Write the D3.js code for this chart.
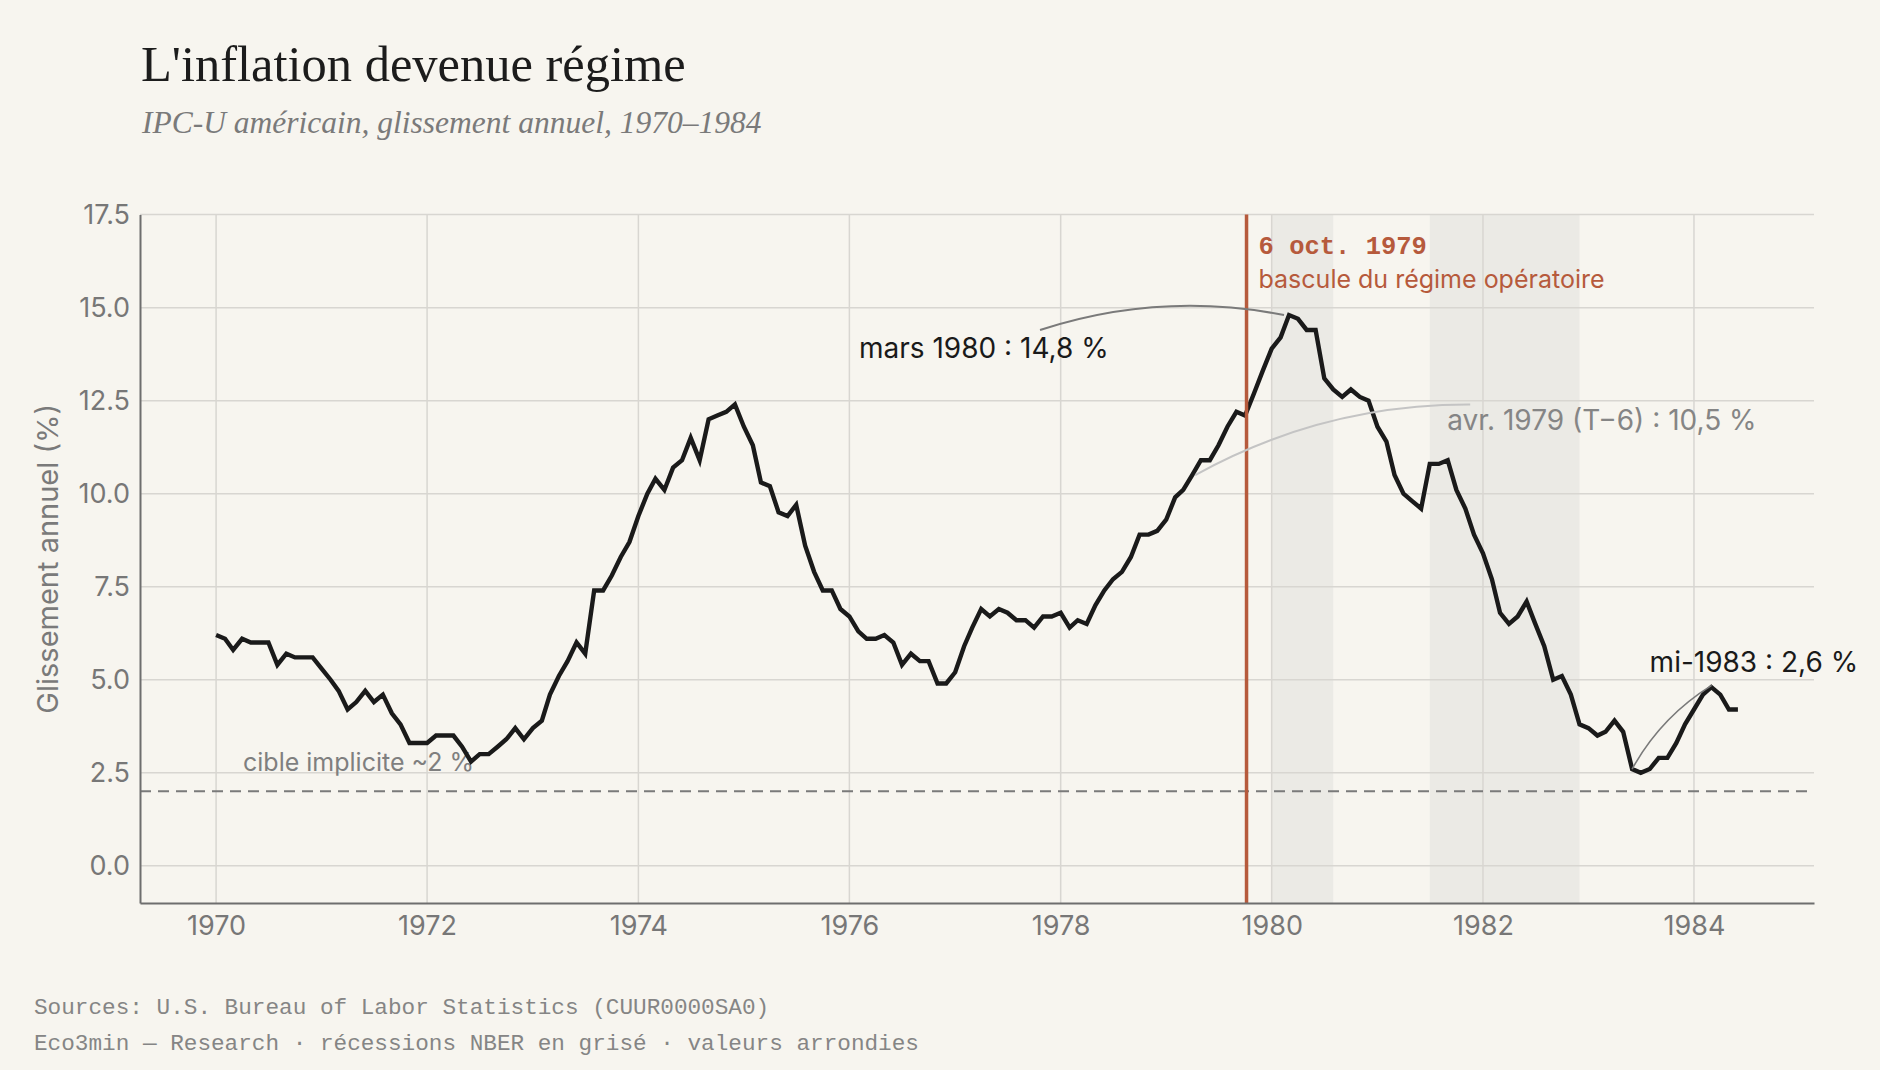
<!DOCTYPE html>
<html lang="fr">
<head>
<meta charset="utf-8">
<script src="https://cdn.jsdelivr.net/npm/d3@7"></script>
<style>
  html, body { margin: 0; padding: 0; background: #f7f5ef; }
  svg { display: block; }
</style>
</head>
<body>
<div class="viz"></div>
<script>
// CPI-U, year-over-year %, monthly from Jan 1970 to Jun 1984
const startMonth = '1970-01'
const yoy = [
  6.2, 6.1, 5.8, 6.1, 6.0, 6.0, 6.0, 5.4, 5.7, 5.6, 5.6, 5.6,          // 1970
  5.3, 5.0, 4.7, 4.2, 4.4, 4.7, 4.4, 4.6, 4.1, 3.8, 3.3, 3.3,          // 1971
  3.3, 3.5, 3.5, 3.5, 3.2, 2.8, 3.0, 3.0, 3.2, 3.4, 3.7, 3.4,          // 1972
  3.7, 3.9, 4.6, 5.1, 5.5, 6.0, 5.7, 7.4, 7.4, 7.8, 8.3, 8.7,          // 1973
  9.4, 10.0, 10.4, 10.1, 10.7, 10.9, 11.5, 10.9, 12.0, 12.1, 12.2, 12.4, // 1974
  11.8, 11.3, 10.3, 10.2, 9.5, 9.4, 9.7, 8.6, 7.9, 7.4, 7.4, 6.9,      // 1975
  6.7, 6.3, 6.1, 6.1, 6.2, 6.0, 5.4, 5.7, 5.5, 5.5, 4.9, 4.9,          // 1976
  5.2, 5.9, 6.4, 6.9, 6.7, 6.9, 6.8, 6.6, 6.6, 6.4, 6.7, 6.7,          // 1977
  6.8, 6.4, 6.6, 6.5, 7.0, 7.4, 7.7, 7.9, 8.3, 8.9, 8.9, 9.0,          // 1978
  9.3, 9.9, 10.1, 10.5, 10.9, 10.9, 11.3, 11.8, 12.2, 12.1, 12.7, 13.3, // 1979
  13.9, 14.2, 14.8, 14.7, 14.4, 14.4, 13.1, 12.8, 12.6, 12.8, 12.6, 12.5, // 1980
  11.8, 11.4, 10.5, 10.0, 9.8, 9.6, 10.8, 10.8, 10.9, 10.1, 9.6, 8.9,  // 1981
  8.4, 7.7, 6.8, 6.5, 6.7, 7.1, 6.5, 5.9, 5.0, 5.1, 4.6, 3.8,          // 1982
  3.7, 3.5, 3.6, 3.9, 3.6, 2.6, 2.5, 2.6, 2.9, 2.9, 3.3, 3.8,          // 1983
  4.2, 4.6, 4.8, 4.6, 4.2, 4.2                                         // 1984
]

// NBER recessions [start, end) by month
const recessions = [['1980-01', '1980-08'], ['1981-07', '1982-12']]
const yTicks = [0, 2.5, 5, 7.5, 10, 12.5, 15, 17.5]
const xTickYears = [1970, 1972, 1974, 1976, 1978, 1980, 1982, 1984]
const targetRate = 2
const regimeDate = '1979-10-06'

const notes = [
  { month: '1980-03', value: 14.8, label: 'mars 1980 : 14,8 %' },
  { month: '1979-04', value: 10.5, label: 'avr. 1979 (T\u22126) : 10,5 %' },
  { month: '1983-06', value: 2.6, label: 'mi-1983 : 2,6 %' }
]

// layout
const W = 1880
const H = 1070
const margin = { top: 214.6, right: 66, bottom: 167, left: 140 }
const sans = 'Inter, "Noto Sans", sans-serif'
const serif = '"Liberation Serif", "DejaVu Serif", serif'
const mono = '"Liberation Mono", "DejaVu Sans Mono", monospace'
const rust = '#b65a3c'

const parseMonth = d3.timeParse('%Y-%m')
const months = d3.timeMonth.range(parseMonth(startMonth), d3.timeMonth.offset(parseMonth(startMonth), yoy.length))
const series = yoy.map((v, i) => ({ date: months[i], value: v }))

const ext = d3.extent(months)
const pad = (ext[1] - ext[0]) * 0.05
const x = d3.scaleTime()
  .domain([new Date(+ext[0] - pad), new Date(+ext[1] + pad)])
  .range([margin.left, W - margin.right])
const y = d3.scaleLinear().domain([-1, 17.5]).range([H - margin.bottom, margin.top])

const svg = d3.select('.viz').append('svg')
  .attr('width', W)
  .attr('height', H)
  .style('background', '#f7f5ef')

// title block
svg.append('text')
  .attr('x', 141).attr('y', 81)
  .attr('font-family', serif).attr('font-size', 50.5)
  .attr('fill', '#1c1c1c')
  .text("L'inflation devenue régime")
svg.append('text')
  .attr('x', 142).attr('y', 133)
  .attr('font-family', serif).attr('font-style', 'italic').attr('font-size', 31.5)
  .attr('fill', '#7a7a7a')
  .text('IPC-U américain, glissement annuel, 1970–1984')

const plot = svg.append('g')

// recession shading
plot.selectAll('rect.rec')
  .data(recessions).enter().append('rect')
  .attr('class', 'rec')
  .attr('x', d => x(parseMonth(d[0])))
  .attr('width', d => x(parseMonth(d[1])) - x(parseMonth(d[0])))
  .attr('y', margin.top)
  .attr('height', y(-1) - margin.top)
  .attr('fill', '#ebeae5')

// grid
plot.selectAll('line.gy')
  .data(yTicks).enter().append('line')
  .attr('x1', margin.left).attr('x2', W - margin.right)
  .attr('y1', d => y(d)).attr('y2', d => y(d))
  .attr('stroke', '#d8d6d1').attr('stroke-width', 1.5)
plot.selectAll('line.gx')
  .data(xTickYears).enter().append('line')
  .attr('x1', d => x(new Date(d, 0, 1))).attr('x2', d => x(new Date(d, 0, 1)))
  .attr('y1', margin.top).attr('y2', y(-1))
  .attr('stroke', '#d8d6d1').attr('stroke-width', 1.5)

// implicit target
plot.append('line')
  .attr('x1', margin.left).attr('x2', W - margin.right)
  .attr('y1', y(targetRate)).attr('y2', y(targetRate))
  .attr('stroke', '#7a7a7a').attr('stroke-width', 2)
  .attr('stroke-dasharray', '11,7')
plot.append('text')
  .attr('x', 243).attr('y', y(targetRate) - 20)
  .attr('font-family', sans).attr('font-size', 25)
  .attr('fill', '#7f7f7f')
  .text('cible implicite ~2 %')

// axes
const yAxis = svg.append('g')
  .attr('transform', `translate(${margin.left},0)`)
  .call(d3.axisLeft(y).tickValues(yTicks).tickFormat(d3.format('.1f')).tickSize(0).tickPadding(10))
const xAxis = svg.append('g')
  .attr('transform', `translate(0,${y(-1)})`)
  .call(d3.axisBottom(x).tickValues(xTickYears.map(d => new Date(d, 0, 1))).tickFormat(d3.timeFormat('%Y')).tickSize(0).tickPadding(13))
;[yAxis, xAxis].forEach(a => {
  a.select('.domain').attr('stroke', '#6e6e6e').attr('stroke-width', 2)
  a.selectAll('text').attr('font-family', sans).attr('font-size', 27).attr('fill', '#777')
})

svg.append('text')
  .attr('transform', `translate(58,${(margin.top + y(-1)) / 2}) rotate(-90)`)
  .attr('text-anchor', 'middle')
  .attr('font-family', sans).attr('font-size', 29)
  .attr('fill', '#7a7a7a')
  .text('Glissement annuel (%)')

// the series
const line = d3.line().x(d => x(d.date)).y(d => y(d.value))
plot.append('path')
  .datum(series)
  .attr('d', line)
  .attr('fill', 'none')
  .attr('stroke', '#1a1a1a')
  .attr('stroke-width', 4.4)

// regime switch marker
const rx = x(d3.timeParse('%Y-%m-%d')(regimeDate))
plot.append('line')
  .attr('x1', rx).attr('x2', rx)
  .attr('y1', margin.top).attr('y2', y(-1))
  .attr('stroke', rust).attr('stroke-width', 3.5)
plot.append('text')
  .attr('x', rx + 12).attr('y', 254)
  .attr('font-family', mono).attr('font-weight', 'bold').attr('font-size', 25.5)
  .attr('fill', rust)
  .text('6 oct. 1979')
plot.append('text')
  .attr('x', rx + 12).attr('y', 288)
  .attr('font-family', sans).attr('font-size', 25)
  .attr('fill', rust)
  .text('bascule du régime opératoire')

// annotations: curved connectors
function arcPath(p1, p2, k = 0.13) {
  const mx = (p1[0] + p2[0]) / 2
  const my = (p1[1] + p2[1]) / 2
  const dx = p2[0] - p1[0]
  const dy = p2[1] - p1[1]
  return `M${p1[0]},${p1[1]}Q${mx + k * dy},${my - k * dx} ${p2[0]},${p2[1]}`
}

const noteStyle = [
  { dx: -430, dy: 43, color: '#1a1a1a', stroke: '#7a7a7a', sw: 2,
    ends: (pt, lb) => [[lb[0] + 181, lb[1] - 28], [pt[0] - 5, pt[1]]] },
  { dx: 255, dy: -45, color: '#858585', stroke: '#c4c4c4', sw: 2,
    ends: (pt, lb) => [[pt[0] + 3, pt[1]], [lb[0] + 23, lb[1] - 25.5]] },
  { dx: 17.5, dy: -96.6, color: '#1a1a1a', stroke: '#7a7a7a', sw: 1.6,
    ends: (pt, lb) => [[pt[0], pt[1]], [lb[0] + 62, lb[1] + 13]] }
]

notes.forEach((n, i) => {
  const s = noteStyle[i]
  const pt = [x(parseMonth(n.month)), y(n.value)]
  const lb = [pt[0] + s.dx, pt[1] + s.dy]
  const [a, b] = s.ends(pt, lb)
  plot.append('path')
    .attr('d', arcPath(a, b))
    .attr('fill', 'none')
    .attr('stroke', s.stroke)
    .attr('stroke-width', s.sw)
  plot.append('text')
    .attr('x', lb[0]).attr('y', lb[1])
    .attr('font-family', sans).attr('font-size', 28)
    .attr('fill', s.color)
    .text(n.label)
})

// footer
const footer = [
  'Sources: U.S. Bureau of Labor Statistics (CUUR0000SA0)',
  'Eco3min — Research · récessions NBER en grisé · valeurs arrondies'
]
svg.selectAll('text.foot')
  .data(footer).enter().append('text')
  .attr('class', 'foot')
  .attr('x', 34)
  .attr('y', (d, i) => 1014 + i * 36)
  .attr('font-family', mono).attr('font-size', 22.7)
  .attr('fill', '#858585')
  .text(d => d)
</script>
</body>
</html>
